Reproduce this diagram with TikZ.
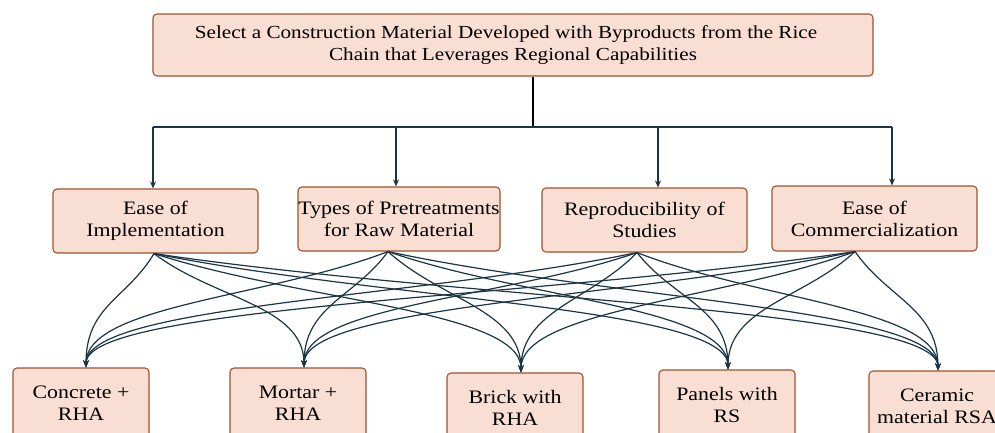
\documentclass[tikz,border=0pt]{standalone}
\usepackage{fontspec}
\setmainfont[FakeStretch=1.15]{Liberation Serif}
\usetikzlibrary{arrows.meta,calc}
\definecolor{boxfill}{HTML}{F8DED3}
\definecolor{boxline}{HTML}{A0522D}
\definecolor{linec}{HTML}{1B3545}
\begin{document}
\begin{tikzpicture}[x=1pt,y=-1pt,
  box/.style={draw=boxline, fill=boxfill, line width=1.1pt, rounded corners=4pt,
    align=center, inner sep=0pt, font=\fontsize{19}{22}\selectfont},
  crit/.style={box, minimum width=205pt, minimum height=64pt},
  alt/.style={box, minimum width=136pt, minimum height=70pt},
  conn/.style={draw=linec, line width=1.5pt},
  arr/.style={conn, -{Stealth[length=7pt,width=6pt]}},
  curve/.style={draw=linec, line width=1.2pt, -{Stealth[length=7pt,width=5.5pt]}}]
\useasboundingbox (0,0) rectangle (995,432);
\begin{scope}
\clip (0,0) rectangle (995,432);
% top
\node[box, minimum width=720pt, minimum height=62pt, font=\fontsize{18.4}{21.5}\selectfont] (top) at (513,45)
  {\hspace*{-14pt}Select a Construction Material Developed with Byproducts from the Rice\\Chain that Leverages Regional Capabilities};
% criteria
\node[crit] (c1) at (155.5,221) {Ease of\\Implementation};
\node[crit, minimum width=202pt] (c2) at (399,219) {Types of Pretreatments\\for Raw Material};
\node[crit] (c3) at (644.5,220) {Reproducibility of\\Studies};
\node[crit, minimum height=65pt] (c4) at (874.5,218.5) {Ease of\\Commercialization};
% alternatives
\node[alt] (a1) at (81,403) {Concrete +\\RHA};
\node[alt] (a2) at (298,403) {Mortar +\\RHA};
\node[alt] (a3) at (515,408) {Brick with\\RHA};
\node[alt] (a4) at (727,405) {Panels with\\RS};
\node[alt] (a5) at (937,406) {Ceramic\\material RSA};
% tree connectors
\coordinate (j) at (533,127);
\coordinate (h1) at (153,127);
\coordinate (h2) at (396,127);
\coordinate (h3) at (658,127);
\coordinate (h4) at (892,127);
\draw[conn, draw=black] (top.south -| j) -- (j);
\draw[conn] (h1) -- (h4);
\draw[arr] (h1) -- (h1 |- c1.north);
\draw[arr] (h2) -- (h2 |- c2.north);
\draw[arr] (h3) -- (h3 |- c3.north);
\draw[arr] (h4) -- (h4 |- c4.north);
% curve start and end points
\coordinate (s1) at ([xshift=-1.5pt]c1.south);
\coordinate (s2) at ([xshift=-11pt]c2.south);
\coordinate (s3) at ([xshift=-7.5pt]c3.south);
\coordinate (s4) at ([xshift=-19.5pt]c4.south);
\coordinate (t1) at ([xshift=5pt]a1.north);
\coordinate (t2) at ([xshift=6pt]a2.north);
\coordinate (t3) at ([xshift=6pt]a3.north);
\coordinate (t4) at ([xshift=1pt]a4.north);
\coordinate (t5) at ([xshift=1pt]a5.north);
\foreach \s in {1,...,4}{
  \foreach \t in {1,...,5}{
    \draw[curve] (s\s) .. controls ($(s\s)!0.4!(t\t)$) and ($(t\t)+(0,-62)$) .. (t\t);
  }
}
\end{scope}
\end{tikzpicture}
\end{document}
